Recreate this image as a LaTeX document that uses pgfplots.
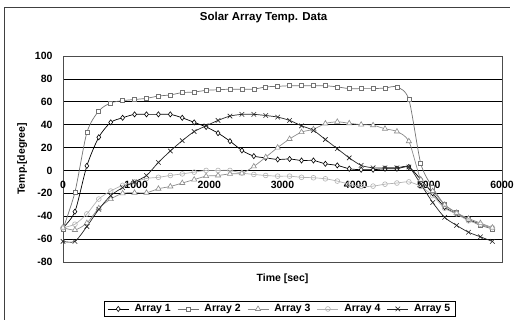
\documentclass[border=0pt]{standalone}
\usepackage{pgfplots}
\usepackage{pgfplotstable}
\pgfplotsset{compat=1.18}
\usepackage{fontspec}
\setmainfont{Liberation Sans}

\pgfplotstableread{
t a1 a2 a3 a4 a5
0 -50 -51 -50 -50 -62
163 -36 -19 -52 -47 -62
326 4 33 -46 -38 -49
489 29 52 -33 -25 -34
652 42 59 -25 -18 -22
815 46 61 -20 -13 -15
978 49 62 -19.5 -10 -10
1141 49 63 -19.5 -7 -4.4
1304 49 65 -16 -6 7
1467 49 66 -14 -4.4 17
1630 46 68 -11 -3 26
1793 42 68.5 -8 -1.5 34
1956 38 70 -5 0 39
2119 32.6 70.5 -4.4 0 43.7
2282 25.6 71 -3 0 47.5
2445 17.5 71 -2.5 -2.3 49
2608 12.5 71 3.5 -3.5 49
2771 11 73 11.6 -4.4 48
2934 9.6 73.5 20 -5 46.6
3097 10 74 27.5 -5 43.7
3260 8.7 74 33.5 -6 39
3423 8.7 74 36 -6.4 35
3586 5.8 74 41 -7.3 27
3749 4.4 73 42.5 -9.3 19
3912 1.5 71.5 41.2 -12 11
4075 0.6 71.5 40 -14 4.4
4238 0.6 71.5 39.5 -13.7 2.3
4401 1.5 72 36.4 -12 2.3
4564 1.5 73 34 -11 2.3
4727 3 62 25.5 -10 3
4890 -8 6 -8 -14 -12
5053 -20 -15 -18 -22 -28
5216 -32 -30 -30 -33 -41
5379 -38 -37 -37 -38 -48
5542 -43 -43 -42 -44 -54
5705 -47 -48 -46 -47 -58
5868 -50 -51 -50 -50 -62
}\data

\begin{document}
\begin{tikzpicture}
\useasboundingbox (0,0) rectangle (521pt,320pt);
\draw[black!75, line width=0.8pt] (4pt,0pt) -- (4pt,313pt) -- (510pt,313pt);
\begin{axis}[
  at={(63pt,58pt)}, anchor=south west,
  scale only axis, width=439pt, height=206pt,
  xmin=0, xmax=6000, ymin=-80, ymax=100,
  xtick={0,1000,...,6000}, ytick={-80,-60,...,100},
  /pgf/number format/assume math mode=true,
  /pgf/number format/1000 sep={},
  ticklabel style={font=\bfseries\fontsize{10.5}{12}\selectfont},
  xticklabel style={anchor=north, yshift=84pt},
  yticklabel style={xshift=-7pt},
  major tick length=0pt,
  ymajorgrids,
  major grid style={black, line width=0.6pt},
  axis line style={black!70, line width=0.6pt},
  title={\bfseries\fontsize{11.5}{13}\selectfont Solar Array Temp. Data},
  title style={at={(axis description cs:0.457,1.16)}, anchor=center},
  xlabel={\bfseries\fontsize{10.5}{12}\selectfont Time [sec]},
  xlabel style={at={(axis description cs:0.5,-0.0825)}, anchor=center},
  ylabel={\bfseries\fontsize{10.5}{12}\selectfont Temp.[degree]},
  ylabel style={at={(axis description cs:-0.093,0.5)}, anchor=center, rotate=0},
  every axis plot/.append style={line width=0.7pt, smooth, tension=0.45},
  legend columns=5,
  legend style={at={(axis description cs:0.494,-0.228)}, anchor=center,
    draw=black, line width=0.8pt, font=\bfseries\fontsize{10.5}{12}\selectfont,
    inner xsep=3pt, inner ysep=1pt,
    /tikz/every even column/.append style={column sep=4.5pt},
    /tikz/every odd column/.append style={column sep=3.5pt}},
  legend image code/.code={\draw[mark repeat=2,mark phase=2] plot coordinates {(0pt,0pt)(10.5pt,0pt)(21pt,0pt)};},
]
\addplot[black, mark=diamond*, mark size=2.6pt, mark options={fill=white, line width=0.6pt}] table[x=t,y=a1]{\data};
\addlegendentry{Array 1}
\addplot[black!55, mark=square*, mark size=2pt, mark options={fill=white, line width=0.6pt}] table[x=t,y=a2]{\data};
\addlegendentry{Array 2}
\addplot[black!45, mark=triangle*, mark size=3pt, mark options={fill=white, line width=0.6pt}] table[x=t,y=a3]{\data};
\addlegendentry{Array 3}
\addplot[black!30, mark=o, mark size=2.4pt, mark options={line width=0.6pt}] table[x=t,y=a4]{\data};
\addlegendentry{Array 4}
\addplot[black!85, mark=x, mark size=3.2pt, mark options={line width=0.6pt}] table[x=t,y=a5]{\data};
\addlegendentry{Array 5}
\end{axis}
\end{tikzpicture}
\end{document}
